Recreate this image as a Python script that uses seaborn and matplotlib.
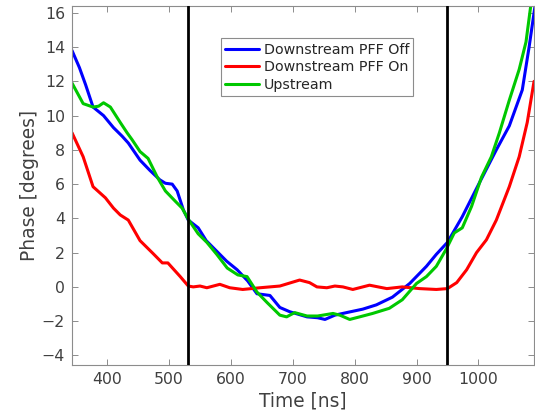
import numpy as np
import pandas as pd
import matplotlib
matplotlib.use("Agg")
import matplotlib.pyplot as plt
import seaborn as sns

# Downstream PFF Off
t_off = [343, 355, 365, 377, 394, 410, 424, 434, 453, 469, 485, 494, 505, 513,
         523, 531, 547, 560, 571, 593, 610, 627, 642, 663, 679, 695, 723, 740,
         752, 768, 787, 813, 835, 861, 889, 916, 932, 950, 974, 1002, 1029,
         1050, 1071, 1082, 1092]
ph_off = [13.8, 12.8, 11.8, 10.5, 10.0, 9.3, 8.8, 8.4, 7.4, 6.8, 6.25, 6.05, 6.0,
          5.6, 4.5, 3.9, 3.45, 2.7, 2.3, 1.5, 1.0, 0.35, -0.4, -0.5, -1.2, -1.45,
          -1.75, -1.8, -1.9, -1.65, -1.5, -1.3, -1.05, -0.6, 0.2, 1.2, 1.9, 2.6,
          4.1, 6.1, 8.0, 9.4, 11.5, 14.0, 16.5]

# Downstream PFF On
t_on = [343, 361, 377, 397, 410, 421, 434, 453, 474, 489, 498, 518, 531, 539,
        550, 561, 582, 598, 619, 647, 679, 711, 727, 739, 755, 768, 781, 797,
        824, 852, 877, 905, 932, 950, 965, 981, 997, 1013, 1029, 1050, 1066,
        1079, 1090]
ph_on = [9.0, 7.6, 5.85, 5.2, 4.6, 4.2, 3.9, 2.7, 1.95, 1.4, 1.4, 0.6, 0.05, 0.0,
         0.05, -0.05, 0.15, -0.05, -0.15, -0.05, 0.05, 0.4, 0.25, 0.0, -0.05,
         0.05, 0.0, -0.15, 0.1, -0.1, 0.0, -0.1, -0.15, -0.1, 0.25, 1.0, 2.0,
         2.75, 3.9, 5.85, 7.6, 9.6, 12.0]

# Upstream
t_up = [343, 361, 377, 386, 394, 405, 421, 432, 440, 453, 466, 481, 494, 510,
        521, 531, 547, 561, 577, 594, 611, 626, 642, 658, 679, 690, 703, 723,
        740, 765, 776, 792, 808, 829, 856, 877, 900, 916, 932, 948, 961, 974,
        989, 1005, 1021, 1034, 1050, 1066, 1077, 1085]
ph_up = [11.9, 10.7, 10.5, 10.55, 10.75, 10.5, 9.6, 9.0, 8.6, 7.9, 7.5, 6.4, 5.6,
         5.0, 4.6, 3.95, 3.1, 2.6, 1.9, 1.1, 0.7, 0.6, -0.3, -0.9, -1.65, -1.75,
         -1.5, -1.7, -1.7, -1.55, -1.65, -1.9, -1.75, -1.55, -1.25, -0.75, 0.2,
         0.6, 1.2, 2.2, 3.15, 3.45, 4.7, 6.4, 7.6, 9.0, 10.9, 12.7, 14.3, 16.5]

labels = ["Downstream PFF Off", "Downstream PFF On", "Upstream"]
gate_times = [530, 950]

sns.set_style("white")
plt.rcParams['font.family'] = ['DejaVu Sans']


def main():
    frames = []
    for name, t, p in zip(labels, [t_off, t_on, t_up], [ph_off, ph_on, ph_up]):
        frames.append(pd.DataFrame({"Time": t, "Phase": p, "Series": name}))
    df = pd.concat(frames, ignore_index=True)

    palette = {"Downstream PFF Off": "#0000ff",
               "Downstream PFF On": "#ff0000",
               "Upstream": "#00c800"}

    fig = plt.figure(figsize=(5.35, 4.16), dpi=100)
    ax = fig.add_axes([0.1346, 0.1226, 0.8636, 0.863])
    sns.lineplot(data=df, x="Time", y="Phase", hue="Series", palette=palette,
                 estimator=None, sort=False, linewidth=2.2, ax=ax)
    for g in gate_times:
        ax.axvline(g, color='black', linewidth=2.0, zorder=5)

    ax.set_xlim(343, 1090)
    ax.set_ylim(-4.56, 16.4)
    ax.set_xticks(np.arange(400, 1001, 100))
    ax.set_yticks(np.arange(-4, 17, 2))
    ax.tick_params(direction='in', bottom=True, left=True, top=True, right=True,
                   length=4, width=0.7, color='#8c8c8c', labelsize=11.3,
                   labelcolor='#404040', pad=5)
    for s in ax.spines.values():
        s.set_color('#8c8c8c')
        s.set_linewidth(0.8)
    ax.set_xlabel("Time [ns]", fontsize=13.4, color='#404040', labelpad=3)
    ax.set_ylabel("Phase [degrees]", fontsize=13.4, color='#404040', labelpad=2)

    leg = ax.legend(loc='upper left', bbox_to_anchor=(0.322, 0.91), fontsize=10.3,
                    frameon=True, fancybox=False, framealpha=1, edgecolor='#8c8c8c',
                    handlelength=2.4, handletextpad=0.3, borderpad=0.3,
                    labelspacing=0.25, borderaxespad=0)
    leg.get_frame().set_linewidth(0.8)
    for txt in leg.get_texts():
        txt.set_color('#262626')

    fig.savefig("out.png", dpi=100)


if __name__ == "__main__":
    main()
